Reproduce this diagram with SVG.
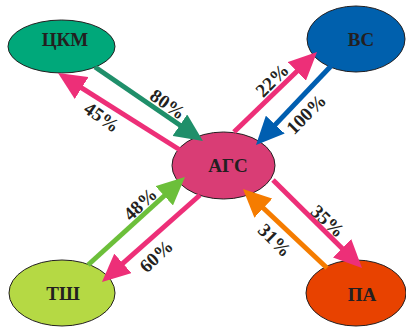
<svg xmlns="http://www.w3.org/2000/svg" width="406" height="329" viewBox="0 0 406 329">
<style>
.node{stroke:#231f20;stroke-width:1}
.nt{font-family:"Liberation Serif","Times New Roman",serif;font-weight:bold;font-size:19px;fill:#231f20;text-anchor:middle}
.pt{font-family:"Liberation Serif","Times New Roman",serif;font-weight:bold;font-size:19px;fill:#231f20;text-anchor:middle}
.c{stroke-width:5;fill:none}
</style>
<defs>
<marker id="mg" viewBox="0 0 28 26" refX="2" refY="13" markerWidth="28" markerHeight="26" markerUnits="userSpaceOnUse" orient="auto"><path d="M0,0 L28,13 L0,26 z" fill="#1f8f6a"/></marker>
<marker id="mp" viewBox="0 0 28 26" refX="2" refY="13" markerWidth="28" markerHeight="26" markerUnits="userSpaceOnUse" orient="auto"><path d="M0,0 L28,13 L0,26 z" fill="#ed2f78"/></marker>
<marker id="mb" viewBox="0 0 28 26" refX="2" refY="13" markerWidth="28" markerHeight="26" markerUnits="userSpaceOnUse" orient="auto"><path d="M0,0 L28,13 L0,26 z" fill="#005eb0"/></marker>
<marker id="ml" viewBox="0 0 28 26" refX="2" refY="13" markerWidth="28" markerHeight="26" markerUnits="userSpaceOnUse" orient="auto"><path d="M0,0 L28,13 L0,26 z" fill="#6cbf3a"/></marker>
<marker id="mo" viewBox="0 0 28 26" refX="2" refY="13" markerWidth="28" markerHeight="26" markerUnits="userSpaceOnUse" orient="auto"><path d="M0,0 L28,13 L0,26 z" fill="#f57c00"/></marker>
</defs>
<g id="ckm"><ellipse class="node" cx="61.5" cy="46.5" rx="53.5" ry="26.5" fill="#00a87a"/><text class="nt" x="65" y="46">ЦКМ</text></g>
<g id="vs"><ellipse class="node" cx="356" cy="39" rx="49" ry="33" fill="#0060ad"/><text class="nt" x="361" y="46">ВС</text></g>
<g id="ags"><ellipse class="node" cx="223.5" cy="165.5" rx="51.5" ry="33.5" fill="#d93d75"/><text class="nt" x="228" y="172">АГС</text></g>
<g id="tsh"><ellipse class="node" cx="62" cy="293" rx="53" ry="33" fill="#b5d944"/><text class="nt" x="63" y="300">ТШ</text></g>
<g id="pa"><ellipse class="node" cx="356" cy="293" rx="50" ry="33" fill="#e84200"/><text class="nt" x="362" y="301">ПА</text></g>
<g id="connectors">
<line class="c" x1="95" y1="67" x2="181.5" y2="126.3" stroke="#1f8f6a" marker-end="url(#mg)"/>
<line class="c" x1="180" y1="150" x2="80" y2="86.9" stroke="#ed2f78" marker-end="url(#mp)"/>
<line class="c" x1="234" y1="132" x2="298.3" y2="70" stroke="#ed2f78" marker-end="url(#mp)"/>
<line class="c" x1="331" y1="66" x2="273.9" y2="126.1" stroke="#005eb0" marker-end="url(#mb)"/>
<line class="c" x1="88" y1="265" x2="165.7" y2="194.5" stroke="#6cbf3a" marker-end="url(#ml)"/>
<line class="c" x1="200" y1="195" x2="121.4" y2="264.7" stroke="#ed2f78" marker-end="url(#mp)"/>
<line class="c" x1="273" y1="180" x2="343.5" y2="249.7" stroke="#ed2f78" marker-end="url(#mp)"/>
<line class="c" x1="327" y1="268" x2="261.9" y2="206.8" stroke="#f57c00" marker-end="url(#mo)"/>
</g>
<g id="labels">
<text class="pt" transform="translate(168,104) rotate(35)" dy="0.35em">80%</text>
<text class="pt" transform="translate(102,117) rotate(35)" dy="0.35em">45%</text>
<text class="pt" transform="translate(272,80) rotate(-45)" dy="0.35em">22%</text>
<text class="pt" transform="translate(306,114) rotate(-45)" dy="0.35em">100%</text>
<text class="pt" transform="translate(140,204) rotate(-43)" dy="0.35em">48%</text>
<text class="pt" transform="translate(156,256) rotate(-43)" dy="0.35em">60%</text>
<text class="pt" transform="translate(328,221) rotate(43)" dy="0.35em">35%</text>
<text class="pt" transform="translate(275,240) rotate(45)" dy="0.35em">31%</text>
</g>
</svg>
